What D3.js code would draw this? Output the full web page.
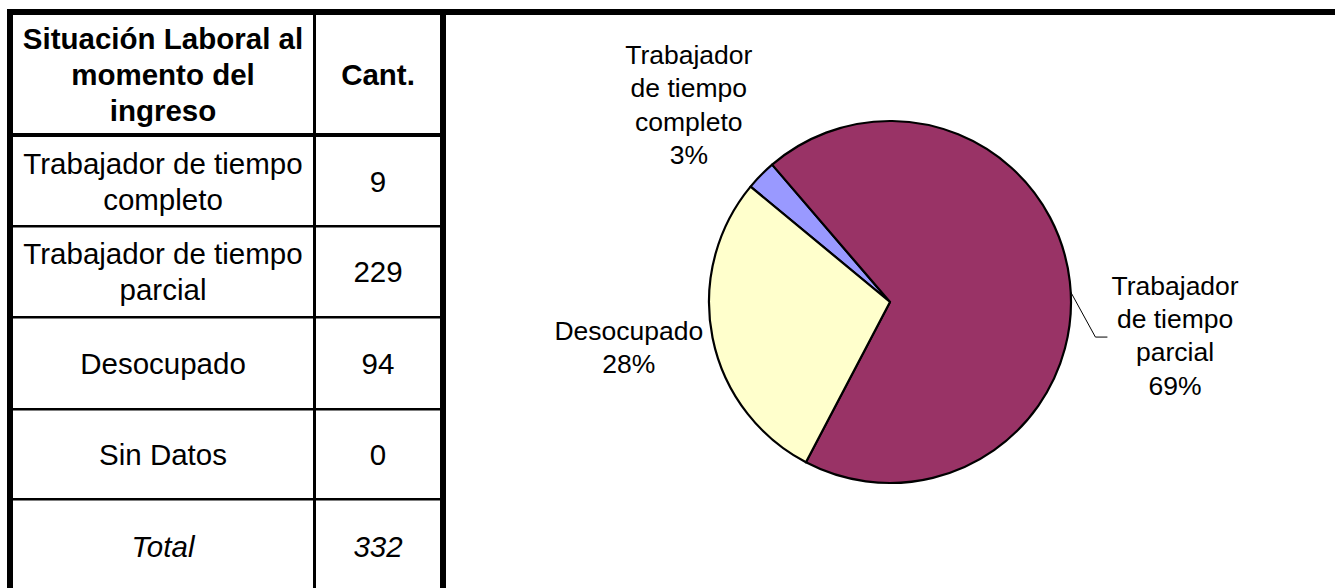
<!DOCTYPE html>
<html lang="es">
<head>
<meta charset="utf-8">
<title>Situación Laboral al momento del ingreso</title>
<script src="https://d3js.org/d3.v7.min.js"></script>
<style>
body {
	margin: 0;
	background-color: white;
	font-family: "Liberation Sans", Arial, sans-serif;
}
svg { display: block; }
.cell { font-size: 29.5px; fill: #000; }
.head { font-weight: bold; }
.tot { font-style: italic; }
.lbl { font-size: 26.5px; fill: #000; }
</style>
</head>
<body>
<script>

// data
var categories = ["Trabajador de tiempo completo", "Trabajador de tiempo parcial", "Desocupado", "Sin Datos"];
var counts = [9, 229, 94, 0];
var totalLabel = "Total";
var headerLines = ["Situación Laboral al", "momento del", "ingreso"];
var countHeader = "Cant.";
// how the names wrap in the table and in the pie labels
var tableLines = [["Trabajador de tiempo", "completo"], ["Trabajador de tiempo", "parcial"], ["Desocupado"], ["Sin Datos"]];
var pieLines = [["Trabajador", "de tiempo", "completo"], ["Trabajador", "de tiempo", "parcial"], ["Desocupado"], ["Sin Datos"]];
var colors = ["#9999FF", "#993366", "#FFFFCC", "#CCFFFF"];

var width = 1335, height = 588;

var svg = d3.select("body").append("svg")
	.attr("width", width)
	.attr("height", height);

var total = d3.sum(counts);

// ---- table ----
var colX = [13, 313, 316, 440];                 // col1 left/right, col2 left/right
var rowY = [15, 133, 137, 225, 227.5, 316, 318.5, 408, 410.5, 498, 500.5, 600];  // top/bottom pairs
var lineH = 36;

function cellText(g, lines, cx, top, bottom, cls) {
	var cy = (top + bottom) / 2;
	g.append("text")
		.attr("class", "cell " + (cls || ""))
		.attr("text-anchor", "middle")
		.selectAll("tspan")
		.data(lines)
		.enter().append("tspan")
		.attr("x", cx)
		.attr("y", function(d, i) { return cy + (i - (lines.length - 1) / 2) * lineH + 10.5; })
		.text(function(d) { return d; });
}

var tbl = svg.append("g");

// borders
tbl.append("rect").attr("x", 7).attr("y", 9).attr("width", width - 7).attr("height", 6).attr("fill", "#000");
tbl.append("rect").attr("x", 7).attr("y", 9).attr("width", 6).attr("height", height).attr("fill", "#000");
tbl.append("rect").attr("x", 440).attr("y", 9).attr("width", 6).attr("height", height).attr("fill", "#000");
tbl.append("rect").attr("x", 313).attr("y", 15).attr("width", 3).attr("height", height).attr("fill", "#000");
for (var r = 1; r < rowY.length - 1; r += 2) {
	tbl.append("rect")
		.attr("x", 13).attr("y", rowY[r])
		.attr("width", 427).attr("height", rowY[r + 1] - rowY[r])
		.attr("fill", "#000");
}

var c1 = (colX[0] + colX[1]) / 2, c2 = (colX[2] + colX[3]) / 2;
cellText(tbl, headerLines, c1, rowY[0], rowY[1], "head");
cellText(tbl, [countHeader], c2, rowY[0], rowY[1], "head");
categories.forEach(function(c, i) {
	cellText(tbl, tableLines[i], c1, rowY[2 + i * 2], rowY[3 + i * 2]);
	cellText(tbl, [String(counts[i])], c2, rowY[2 + i * 2], rowY[3 + i * 2]);
});
cellText(tbl, [totalLabel], c1, rowY[10], 592, "tot");
cellText(tbl, [String(total)], c2, rowY[10], 592, "tot");

// ---- pie ----
var cx = 890, cy = 302, radius = 181;
var startDeg = -50.4;
var pie = d3.pie().sort(null)
	.startAngle(startDeg * Math.PI / 180)
	.endAngle((startDeg + 360) * Math.PI / 180);

var slices = pie(counts).map(function(d, i) { d.i = i; return d; })
	.filter(function(d) { return d.value > 0; });

var arc = d3.arc().innerRadius(0).outerRadius(radius);
var gp = svg.append("g").attr("transform", "translate(" + cx + "," + cy + ")");

gp.selectAll("path")
	.data(slices)
	.enter().append("path")
	.attr("d", arc)
	.attr("fill", function(d) { return colors[d.i]; })
	.attr("stroke", "#000")
	.attr("stroke-width", 2.2)
	.attr("stroke-linejoin", "round");

// label distance / angle nudge (labels were placed by hand in the original)
var labelDist = {0: 282, 1: 287, 2: 265};
var labelTurn = {0: 0, 1: 13.1, 2: 1.6};
var pct = d3.format(".0%");
var lblH = 33.3;

slices.forEach(function(d) {
	var mid = (d.startAngle + d.endAngle) / 2;
	var la = mid + labelTurn[d.i] * Math.PI / 180;
	var rr = labelDist[d.i];
	var lx = Math.sin(la) * rr, ly = -Math.cos(la) * rr;
	var lines = pieLines[d.i].concat([pct(d.value / total)]);
	var t = gp.append("text").attr("class", "lbl").attr("text-anchor", "middle");
	t.selectAll("tspan").data(lines).enter().append("tspan")
		.attr("x", lx)
		.attr("y", function(s, k) { return ly + (k - (lines.length - 1) / 2) * lblH + 9.5; })
		.text(function(s) { return s; });

	if (d.i === 1) {
		// leader line for the label that was pulled away
		var bw = t.node().getBBox().width;
		var left = lx - bw / 2;
		var a = mid + 0.058;
		var p0 = [Math.sin(a) * radius, -Math.cos(a) * radius];
		gp.append("path")
			.attr("d", d3.line()([p0, [left - 16, ly + 2], [left - 4, ly + 2]]))
			.attr("fill", "none")
			.attr("stroke", "#000")
			.attr("stroke-width", 1);
	}
});

</script>
</body>
</html>
